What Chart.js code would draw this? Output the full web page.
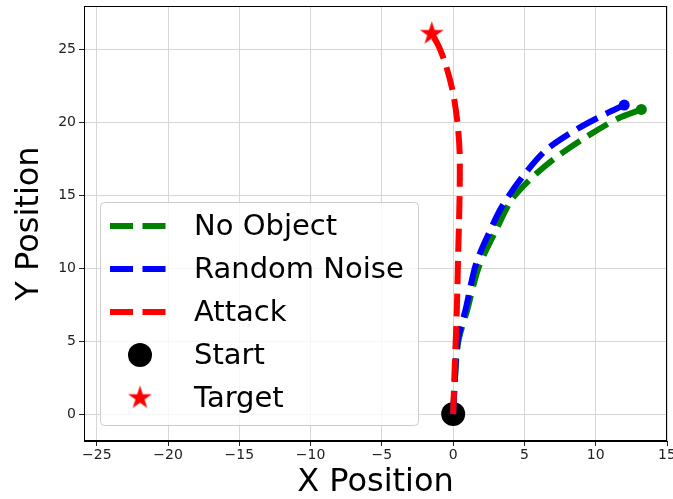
<!DOCTYPE html>
<html>
<head>
<meta charset="utf-8">
<script src="https://cdn.jsdelivr.net/npm/chart.js@4.4.1/dist/chart.umd.min.js"></script>
<style>
body { margin: 0; background: #fff; }
</style>
</head>
<body>
<canvas id="trajChart" width="673" height="499"></canvas>
<script>
// Trajectories
const noObjectX = [0, 0.1, 0.35, 1.0, 1.8, 3.0, 4.1, 5.5, 7.2, 9.3, 11.6, 13.2];
const noObjectY = [0, 2.0, 4.9, 7.2, 10.1, 12.6, 14.7, 16.2, 17.6, 19.0, 20.3, 20.9];

const noiseX = [0, 0.1, 0.3, 0.9, 1.6, 2.5, 3.4, 4.8, 6.5, 8.6, 10.7, 12.0];
const noiseY = [0, 2.0, 4.9, 7.3, 10.3, 12.4, 14.2, 16.2, 18.1, 19.5, 20.6, 21.2];

const attackX = [0, 0.1, 0.25, 0.35, 0.45, 0.45, 0.3, 0.0, -0.5, -1.0, -1.5];
const attackY = [0, 3.0, 7.0, 11.0, 15.0, 18.0, 20.0, 22.0, 23.9, 25.2, 26.1];

const startX = [0];
const startY = [0];
const targetX = [-1.5];
const targetY = [26.1];

const xTicks = [-25, -20, -15, -10, -5, 0, 5, 10, 15];
const yTicks = [0, 5, 10, 15, 20, 25];

const legendOrder = ['No Object', 'Random Noise', 'Attack', 'Start', 'Target'];

function toPoints(xs, ys) {
    return xs.map((x, i) => ({ x: x, y: ys[i] }));
}

// filled five point star (Chart.js 'star' is only an outline)
function makeStar(r, color) {
    const c = document.createElement('canvas');
    c.width = c.height = Math.ceil(2 * r + 2);
    const g = c.getContext('2d');
    const cx = c.width / 2, cy = c.height / 2;
    g.fillStyle = color;
    g.beginPath();
    for (let i = 0; i < 10; i++) {
        const rad = i % 2 ? r * 0.382 : r;
        const a = -Math.PI / 2 + i * Math.PI / 5;
        const px = cx + rad * Math.cos(a), py = cy + rad * Math.sin(a);
        if (i === 0) g.moveTo(px, py); else g.lineTo(px, py);
    }
    g.closePath();
    g.fill();
    return c;
}

const starImg = makeStar(12.5, '#ff0000');
const DASH = [23, 9.5];
const FONT = "'DejaVu Sans', 'Liberation Sans', sans-serif";

// only show a dot on the last point of a trajectory
function lastDot(r) {
    return ctx => ctx.dataIndex === ctx.dataset.data.length - 1 ? r : 0;
}

function trajectory(label, color, xs, ys, endRadius) {
    return {
        label: label,
        data: toPoints(xs, ys),
        showLine: true,
        borderColor: color,
        backgroundColor: color,
        borderWidth: 6,
        borderDash: DASH,
        tension: 0.3,
        pointRadius: lastDot(endRadius),
        pointBorderWidth: 0,
        pointBackgroundColor: color,
        kind: 'line'
    };
}

// legend drawn inside the plot, lower left, like matplotlib
const innerLegend = {
    id: 'innerLegend',
    afterDraw(chart) {
        const ctx = chart.ctx;
        const area = chart.chartArea;
        // frame on all four sides
        ctx.save();
        ctx.strokeStyle = '#000';
        ctx.lineWidth = 1;
        ctx.strokeRect(area.left + 0.5, area.top + 0.5, area.right - area.left - 1, area.bottom - area.top - 1);

        const bx = 100, by = 202, bw = 318, bh = 223, br = 4;
        ctx.beginPath();
        ctx.roundRect(bx + 0.5, by + 0.5, bw, bh, br);
        ctx.fillStyle = 'rgba(255,255,255,0.8)';
        ctx.fill();
        ctx.strokeStyle = '#cccccc';
        ctx.lineWidth = 1;
        ctx.stroke();

        ctx.font = '29px ' + FONT;
        ctx.textBaseline = 'middle';
        ctx.textAlign = 'left';
        legendOrder.forEach((label, i) => {
            const ds = chart.data.datasets.find(d => d.label === label);
            const y = 226 + i * 43;
            if (ds.kind === 'line') {
                ctx.beginPath();
                ctx.setLineDash(ds.borderDash);
                ctx.lineWidth = ds.borderWidth;
                ctx.strokeStyle = ds.borderColor;
                ctx.moveTo(110, y);
                ctx.lineTo(169, y);
                ctx.stroke();
                ctx.setLineDash([]);
            } else if (ds.kind === 'dot') {
                ctx.beginPath();
                ctx.arc(140, y, 12, 0, Math.PI * 2);
                ctx.fillStyle = ds.backgroundColor;
                ctx.fill();
            } else {
                ctx.drawImage(starImg, 140 - starImg.width / 2, y - starImg.height / 2);
            }
            ctx.fillStyle = '#000';
            ctx.fillText(label, 194, y + 1);
        });
        ctx.restore();
    }
};

const ctx = document.getElementById('trajChart').getContext('2d');
new Chart(ctx, {
    type: 'scatter',
    data: {
        // later datasets are painted first
        datasets: [
            {
                label: 'Target',
                data: toPoints(targetX, targetY),
                pointStyle: starImg,
                pointRadius: 12,
                kind: 'star'
            },
            trajectory('Attack', '#ff0000', attackX, attackY, 0),
            trajectory('Random Noise', '#0000ff', noiseX, noiseY, 5.5),
            trajectory('No Object', '#008000', noObjectX, noObjectY, 5.5),
            {
                label: 'Start',
                data: toPoints(startX, startY),
                pointRadius: 12,
                pointBorderWidth: 0,
                backgroundColor: '#000000',
                pointBackgroundColor: '#000000',
                kind: 'dot'
            }
        ]
    },
    options: {
        responsive: false,
        animation: false,
        layout: { autoPadding: false, padding: { top: 6, right: 6, left: 0, bottom: 0 } },
        plugins: {
            legend: { display: false },
            tooltip: { enabled: false }
        },
        scales: {
            x: {
                type: 'linear',
                min: -25.9,
                max: 15,
                afterBuildTicks: s => { s.ticks = xTicks.map(v => ({ value: v })); },
                afterFit: s => { s.height = 58; s.paddingLeft = 0; s.paddingRight = 0; },
                ticks: {
                    font: { family: FONT, size: 14 },
                    color: '#222',
                    padding: 1,
                    maxRotation: 0,
                    autoSkip: false,
                    callback: v => String(v).replace('-', '\u2212')
                },
                grid: { color: '#d6d6d6', tickColor: '#222', tickLength: 5 },
                border: { color: '#000' },
                title: {
                    display: true,
                    text: 'X Position',
                    color: '#000',
                    font: { family: FONT, size: 32, lineHeight: 1 },
                    padding: { top: 0, bottom: 0 }
                }
            },
            y: {
                type: 'linear',
                min: -1.85,
                max: 28,
                afterBuildTicks: s => { s.ticks = yTicks.map(v => ({ value: v })); },
                afterFit: s => { s.width = 84; s.paddingTop = 0; s.paddingBottom = 0; },
                ticks: {
                    font: { family: FONT, size: 14 },
                    color: '#222',
                    padding: 3,
                    autoSkip: false
                },
                grid: { color: '#d6d6d6', tickColor: '#222', tickLength: 5 },
                border: { color: '#000' },
                title: {
                    display: true,
                    text: 'Y Position',
                    color: '#000',
                    font: { family: FONT, size: 32, lineHeight: 1 },
                    padding: { top: 14, bottom: 0 }
                }
            }
        }
    },
    plugins: [innerLegend]
});
</script>
</body>
</html>
